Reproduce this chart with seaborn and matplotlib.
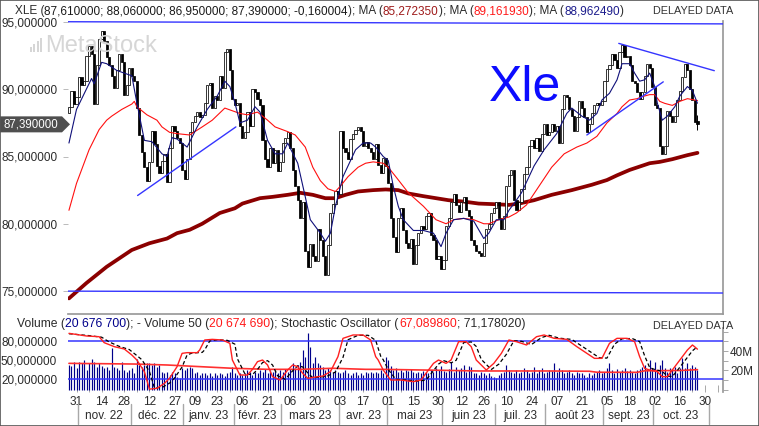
import numpy as np
import pandas as pd
import seaborn as sns
import matplotlib
matplotlib.use("Agg")
import matplotlib.pyplot as plt
from matplotlib.patches import Polygon, Rectangle
from matplotlib.transforms import blended_transform_factory as blend

# ---------------- data (x = trading day, 0 = 31 Oct 2022) ----------------
first_day = -3
first_open = 88.2
closes = [
    88.7, 89.9, 88.9,
    89.4, 90.9, 90.3, 90.6, 92.5, 93.2, 92.6, 88.9, 91.8, 93.7,
    94.3, 93.6, 92.4, 91.8, 91.0, 90.1, 91.4, 92.6, 92.0, 89.6,
    90.3, 91.6, 91.0, 90.6, 88.6, 86.6, 85.3, 84.2, 83.2, 84.6,
    86.9, 85.9, 84.3, 83.8, 84.7, 85.2, 83.1, 85.6, 87.3, 86.9,
    86.4, 86.0, 84.0, 83.3, 84.8, 86.8, 87.6, 88.0, 88.3, 87.9,
    88.1, 89.0, 90.3, 90.5, 88.6, 89.5, 89.2, 91.0, 90.1, 92.8,
    93.0, 91.4, 89.3, 88.8, 89.0, 87.3, 86.4, 86.8, 88.3, 87.3,
    90.0, 89.8, 89.3, 88.8, 86.2, 84.8, 84.2, 85.6, 84.5, 85.5,
    83.9, 84.6, 86.0, 86.4, 86.8, 85.6, 84.0, 82.8, 81.8, 80.4,
    81.6, 78.0, 76.8, 78.5, 77.6, 77.2, 79.6, 78.8, 77.6, 76.2,
    78.4, 80.8, 81.5, 82.4, 82.2, 86.9, 85.6, 85.3, 84.8, 86.3,
    86.7, 87.0, 87.2, 86.9, 85.8, 86.1, 85.6, 85.3, 84.8, 85.9,
    84.4, 83.8, 84.9, 84.3, 83.0, 80.4, 79.0, 77.9, 80.4, 81.2,
    79.5, 78.6, 78.2, 78.9, 77.0, 78.4, 79.3, 79.8, 79.6, 80.6,
    80.8, 79.2, 78.8, 77.4, 77.6, 76.6, 77.3, 79.8, 80.4, 81.6,
    82.2, 81.4, 80.9, 81.6, 82.0, 81.0, 80.6, 78.8, 78.4, 78.0,
    77.8, 77.6, 78.6, 79.6, 80.0, 80.8, 81.2, 81.6, 80.4, 79.6,
    80.6, 82.8, 83.6, 84.0, 81.8, 81.0, 81.6, 82.6, 83.7, 84.2,
    85.8, 86.2, 85.6, 86.4, 85.4, 86.7, 87.4, 86.6, 86.8, 87.4,
    86.9, 87.3, 86.0, 88.5, 89.6, 89.4, 88.5, 88.0, 86.9, 87.9,
    89.1, 88.6, 87.9, 86.8, 87.4, 88.2, 88.8, 89.0, 88.8, 89.1,
    90.6, 91.5, 91.8, 92.6, 92.2, 91.6, 92.8, 93.3, 92.4, 92.5,
    91.8, 90.6, 90.5, 89.8, 89.3, 89.8, 91.0, 91.9, 91.6, 90.2,
    88.8, 88.6, 85.8, 85.2, 85.8, 88.4, 88.0, 87.6, 88.0, 89.2,
    89.9, 90.9, 91.9, 91.4, 90.0, 89.2, 87.55, 87.39,
]
last_open, last_high, last_low = 87.61, 88.06, 86.95

volume_m = [
    25.5, 24.5, 29.0, 22.1, 29.0, 27.2, 30.7, 20.3, 27.9, 31.4,
    29.0, 23.8, 27.2, 24.5, 22.1, 23.8, 20.3, 42.8, 23.8, 22.1,
    20.3, 29.0, 20.3, 18.6, 20.3, 22.1, 16.9, 31.4, 25.5, 23.8,
    25.5, 27.2, 27.2, 25.5, 27.2, 23.8, 25.5, 18.6, 16.9, 18.6,
    15.1, 18.6, 16.9, 13.4, 11.7, 22.1, 20.3, 22.1, 23.8, 22.1,
    16.9, 18.6, 15.1, 16.9, 17.6, 15.1, 16.9, 14.1, 16.9, 15.1,
    16.9, 15.8, 14.1, 16.9, 18.6, 23.8, 16.9, 15.1, 17.6, 15.1,
    16.9, 20.3, 18.6, 15.1, 18.6, 16.9, 20.3, 18.6, 21.0, 16.9,
    20.3, 18.6, 20.3, 16.9, 20.3, 18.6, 21.0, 18.6, 21.0, 27.2,
    22.1, 25.5, 29.0, 41.1, 34.1, 58.3, 44.5, 27.2, 34.1, 27.2,
    25.5, 23.8, 20.3, 22.1, 20.3, 18.6, 20.3, 18.6, 16.9, 18.6,
    20.3, 16.9, 15.1, 16.9, 18.6, 15.1, 16.9, 15.1, 18.6, 16.9,
    18.6, 16.9, 18.6, 16.9,
    20.3, 17.6, 34.1, 31.0, 24.0, 20.3, 22.1, 18.6, 20.3, 18.6,
    20.3, 19.0, 21.0, 18.6, 17.6, 18.6, 16.9, 19.5, 18.6, 16.9,
    20.3, 18.6, 22.1, 20.3, 24.0, 19.5, 18.6, 21.0, 29.0, 18.6,
    23.8, 20.3, 22.1, 25.5, 18.6, 24.5, 23.8, 17.6, 16.9, 15.1,
    18.6, 16.9, 15.1, 16.9, 14.1, 13.4, 11.7, 15.1, 16.9, 18.6,
    25.5, 20.3, 18.6, 16.9, 20.3, 17.6, 18.6, 22.1, 20.3, 17.6,
    18.6, 23.8, 16.9, 20.3, 22.1, 17.6, 18.6, 20.3, 19.0, 27.2,
    18.6, 22.1, 20.3, 17.6, 18.6, 20.3, 16.9, 15.1, 18.6, 17.6,
    16.9, 15.1, 13.4, 16.9, 15.1, 17.6, 18.6, 20.3, 16.9, 18.6,
    22.1, 27.2, 20.3, 17.6, 21.0, 18.6, 20.3, 22.1, 19.0, 20.3,
    18.6, 17.6, 20.3, 21.0, 23.8, 25.5, 20.3, 30.7, 22.1, 29.0,
    20.3, 25.5, 30.7, 22.1, 18.6, 22.1, 20.3, 23.8, 17.6, 22.1,
    32.4, 22.1, 27.2, 22.1, 25.5, 23.8, 20.68,
]

# moving averages (blue short, red medium, dark red 200)
ma_fast_day = [-3, 0, 6, 7, 10, 12, 16, 19, 22, 24, 27, 30, 34, 36, 38, 40, 44, 48, 52, 56,
               59, 61, 63, 65, 68, 71, 73, 76, 79, 82, 84, 88, 91, 93, 97, 99, 101, 103, 106, 109,
               111, 114, 117, 119, 122, 124, 126, 128, 130, 134, 138, 142, 145, 147, 150, 154, 158, 162, 164, 167,
               170, 172, 174, 177, 182, 186, 191, 195, 197, 201, 204, 207, 209, 212, 215, 217, 220, 222, 224, 226,
               228, 230, 231, 233, 235, 238, 240, 243, 245, 247]
ma_fast = [86.0, 88.5, 90.8, 90.4, 92.0, 91.9, 91.4, 91.2, 91.0, 89.0, 86.2, 86.1, 85.2, 85.0, 86.4, 86.3, 85.7, 87.2, 88.5, 89.5,
           90.6, 90.2, 89.0, 87.5, 87.7, 88.7, 88.3, 86.2, 85.2, 85.2, 86.0, 84.5, 82.0, 80.3, 79.3, 78.7, 79.3, 81.3, 83.5, 84.7,
           85.5, 86.0, 86.0, 85.7, 85.0, 84.7, 82.8, 81.3, 80.3, 79.5, 79.5, 79.3, 78.3, 79.3, 80.3, 80.4, 80.2, 78.9, 79.3, 80.3,
           80.3, 81.0, 81.5, 82.3, 84.3, 85.5, 86.7, 88.2, 88.6, 88.0, 87.7, 88.2, 89.2, 89.7, 90.7, 91.9, 91.9, 91.2, 90.6, 90.7,
           91.2, 90.2, 89.0, 87.7, 88.0, 88.7, 89.5, 90.2, 89.9, 88.96]

ma_mid_day = [-3, 0, 5, 9, 12, 14, 18, 22, 23, 24, 28, 32, 34, 37, 40, 45, 50, 54, 59, 65,
              68, 72, 76, 79, 84, 87, 91, 94, 97, 100, 103, 105, 108, 112, 115, 118, 122, 124, 127, 132,
              138, 143, 147, 150, 154, 158, 162, 164, 168, 172, 175, 179, 184, 189, 194, 199, 203, 207, 211, 215,
              217, 220, 223, 225, 228, 230, 232, 234, 237, 240, 243, 247]
ma_mid = [81.0, 83.0, 85.5, 87.0, 87.7, 88.0, 88.5, 88.9, 89.1, 88.7, 88.1, 87.7, 87.2, 86.8, 86.7, 86.6, 87.2, 87.7, 88.6, 88.2,
          88.1, 88.3, 87.7, 87.2, 86.85, 86.6, 85.7, 84.2, 83.2, 82.6, 82.4, 82.8, 83.5, 84.2, 84.5, 84.6, 84.5, 84.2, 83.5, 82.3,
          81.3, 80.3, 80.0, 80.3, 80.4, 80.3, 80.0, 80.0, 80.3, 80.5, 80.8, 81.4, 82.8, 84.2, 85.2, 85.7, 86.0, 86.5, 87.5, 88.2,
          88.7, 89.2, 89.3, 89.45, 89.6, 89.6, 89.1, 88.95, 88.8, 89.1, 89.3, 89.16]

ma_slow_day = [-3, 4, 12, 22, 29, 36, 40, 45, 50, 57, 63, 66, 73, 78, 84, 89, 94, 99, 103, 107,
               112, 118, 123, 128, 132, 138, 143, 148, 154, 160, 167, 172, 176, 182, 189, 197, 205, 211, 215, 220,
               228, 232, 237, 243, 247]
ma_slow = [74.45, 75.6, 76.8, 78.05, 78.55, 78.9, 79.3, 79.55, 80.0, 80.8, 81.15, 81.5, 81.9, 82.0, 82.15, 82.3, 82.15, 81.9, 81.9, 82.15,
           82.4, 82.5, 82.55, 82.5, 82.25, 82.05, 81.9, 81.75, 81.65, 81.5, 81.45, 81.4, 81.5, 81.75, 82.15, 82.5, 82.9, 83.25, 83.6, 84.0,
           84.5, 84.6, 84.8, 85.1, 85.27]

vol_ma_day = [-3, 23, 36, 49, 62, 76, 89, 102, 115, 121, 138, 160, 187, 204, 207, 223, 226, 240, 247]
vol_ma = [27.2, 26.5, 25.5, 23.8, 22.1, 21.0, 21.0, 22.1, 21.0, 21.0, 20.3, 19.3, 19.3, 19.0, 18.0, 17.9, 19.5, 19.8, 20.67]

stoch_k_day = [-3, 4, 9, 11, 15, 19, 22, 24, 27, 29, 32, 35, 37, 40, 42, 44, 48, 49, 51, 54,
               58, 61, 62, 65, 68, 70, 72, 74, 76, 78, 81, 84, 86, 88, 90, 92, 96, 98, 101, 104,
               106, 110, 114, 117, 119, 120, 122, 125, 129, 134, 137, 139, 142, 144, 147, 149, 152, 155, 157, 159,
               163, 166, 169, 172, 175, 179, 183, 186, 190, 195, 199, 202, 206, 209, 212, 215, 219, 222, 224, 226,
               228, 231, 233, 235, 237, 240, 243, 245, 246, 247]
stoch_k = [92.1, 87.9, 86.8, 77.4, 71.1, 67.4, 57.9, 50.0, 31.6, 4.0, 5.3, 13.2, 21.1, 39.5, 60.5, 61.6, 61.6, 65.8, 81.6, 82.6,
           81.6, 76.3, 50.0, 26.3, 26.3, 35.3, 47.4, 50.0, 42.1, 23.7, 18.4, 34.2, 42.1, 39.5, 28.9, 21.1, 23.7, 24.7, 31.6, 55.3,
           84.2, 89.5, 89.5, 81.6, 55.3, 50.0, 34.2, 18.4, 18.4, 15.8, 18.4, 28.9, 44.7, 50.0, 44.7, 50.0, 78.9, 78.9, 71.1, 50.0,
           34.2, 44.7, 60.5, 81.6, 78.9, 73.7, 86.8, 89.5, 84.2, 82.6, 71.1, 63.2, 52.6, 52.6, 76.3, 84.2, 84.2, 78.9, 55.3, 36.8,
           34.2, 31.6, 23.7, 23.7, 34.2, 50.0, 65.8, 73.7, 70.5, 67.09]

stoch_d_day = [-3, 5, 10, 13, 17, 21, 24, 26, 29, 31, 34, 37, 39, 42, 44, 46, 50, 51, 53, 56,
               60, 63, 64, 67, 70, 72, 74, 76, 78, 80, 83, 86, 88, 90, 92, 94, 98, 100, 103, 106,
               108, 112, 116, 119, 121, 122, 124, 127, 131, 136, 139, 141, 144, 146, 149, 151, 154, 157, 159, 161,
               165, 168, 171, 174, 177, 181, 185, 188, 192, 197, 201, 204, 208, 211, 214, 217, 221, 224, 226, 228,
               230, 233, 235, 237, 239, 242, 245, 247]
stoch_d = [91.5, 88.5, 86.0, 78.5, 71.5, 66.5, 57.0, 50.5, 32.0, 6.0, 6.5, 13.5, 21.5, 39.0, 58.0, 61.0, 62.0, 66.0, 80.0, 82.0,
           81.0, 75.0, 52.0, 28.0, 27.0, 35.0, 46.0, 49.0, 42.0, 25.0, 19.5, 33.0, 41.0, 39.0, 29.5, 22.0, 23.5, 25.0, 31.0, 54.0,
           82.0, 89.0, 89.0, 81.0, 56.0, 50.5, 35.0, 19.5, 18.5, 16.5, 18.5, 28.0, 43.5, 49.0, 45.5, 49.5, 77.5, 78.5, 71.5, 51.0,
           35.0, 43.5, 59.0, 80.5, 79.5, 74.5, 85.5, 89.0, 84.5, 82.5, 72.0, 64.0, 53.5, 53.0, 75.0, 83.5, 84.0, 79.0, 56.5, 38.0,
           35.0, 32.0, 24.5, 24.0, 33.5, 49.0, 64.5, 71.18]

# hand-drawn trend lines: (day, price) end points
trend_lines = [
    [(-3.4, 95.02), (257.2, 94.86)],
    [(-3.4, 74.99), (257.2, 74.85)],
    [(24.3, 82.1), (63.4, 87.2)],
    [(203.0, 86.6), (233.4, 90.55)],
    [(215.7, 93.41), (253.7, 91.38)],
]

tick_days = [0, 10, 19, 29, 39, 47, 56, 66, 76, 85, 95, 105, 114, 124, 134, 144, 153, 162,
             171, 181, 191, 201, 211, 220, 230, 240, 250]
tick_labels = ["31", "14", "28", "12", "27", "09", "23", "06", "21", "06", "20", "03", "17", "01",
               "15", "30", "12", "26", "10", "24", "07", "21", "05", "18", "02", "16", "30"]
week_days = [5, 15, 24, 34, 43, 52, 61, 71, 80, 90, 100, 109, 119, 129, 139, 148, 158, 167,
             176, 186, 196, 206, 215, 225, 235, 245, 255]
month_start = [1, 22, 43, 63, 82, 105, 124, 146, 167, 187, 210, 230, 252]
month_labels = ["nov. 22", "déc. 22", "janv. 23", "févr. 23", "mars 23", "avr. 23",
                "mai 23", "juin 23", "juil. 23", "août 23", "sept. 23", "oct. 23"]

# ---------------- layout ----------------
W, H = 759, 426
X0, X1 = 67.7, 723.0
PX_DAY, DAY0_X = 2.514, 76.5
D0, D1 = (X0 - DAY0_X) / PX_DAY, (X1 - DAY0_X) / PX_DAY
PX_PRICE = 13.45
TXT = "#2b2b2b"
GRID = "#9a9a9a"
BLUE_LINE = "#3535ff"

sns.set_theme(style="white")
plt.rcParams["font.family"] = ["Liberation Sans", "DejaVu Sans"]
plt.rcParams["font.size"] = 8.5

fig = plt.figure(figsize=(W / 100, H / 100), dpi=100)
fig.patch.set_facecolor("white")

ax = fig.add_axes([X0 / W, 1 - 314 / H, (X1 - X0) / W, (314 - 21) / H])
axv = fig.add_axes([X0 / W, 1 - 391.5 / H, (X1 - X0) / W, (391.5 - 328) / H])
axs = axv.twinx()

for a in (ax, axv, axs):
    a.set_xlim(D0, D1)
    a.set_facecolor("none")
    for s in a.spines.values():
        s.set_visible(False)
ax.set_facecolor("white")
ax.set_ylim(95 - 292 / PX_PRICE, 95 + 1 / PX_PRICE)
ax.spines["right"].set_visible(True)
ax.spines["bottom"].set_visible(True)
ax.spines["right"].set_color(GRID)
ax.spines["bottom"].set_color(GRID)
axv.spines["right"].set_visible(True)
axv.spines["right"].set_color(GRID)

# ---------------- candles ----------------
df = pd.DataFrame({"day": np.arange(first_day, first_day + len(closes)), "close": closes})
df["open"] = df["close"].shift(1).fillna(first_open)
df.loc[df.index[-1], "open"] = last_open
df["low_body"] = df[["open", "close"]].min(axis=1)
df["body"] = (df["close"] - df["open"]).abs().clip(lower=0.1)
up = df["close"] >= df["open"]

sns.lineplot(x=ma_slow_day, y=ma_slow, ax=ax, color="#8b0000", linewidth=2.7,
             legend=False, zorder=1.5)
ax.vlines(df["day"].iloc[-1], last_low, last_high, color="black", lw=0.7, zorder=2)
ax.bar(df.loc[up, "day"], df.loc[up, "body"], bottom=df.loc[up, "low_body"], width=0.85,
       facecolor="white", edgecolor="black", linewidth=0.55, zorder=2)
ax.bar(df.loc[~up, "day"], df.loc[~up, "body"], bottom=df.loc[~up, "low_body"], width=0.85,
       facecolor="black", edgecolor="black", linewidth=0.55, zorder=2)

sns.lineplot(x=ma_mid_day, y=ma_mid, ax=ax, color="#ff1010", linewidth=0.8, legend=False, zorder=3)
sns.lineplot(x=ma_fast_day, y=ma_fast, ax=ax, color="#10107a", linewidth=0.8, legend=False, zorder=3)

for (d_a, p_a), (d_b, p_b) in trend_lines:
    sns.lineplot(x=[d_a, d_b], y=[p_a, p_b], ax=ax, color=BLUE_LINE, linewidth=1.0,
                 legend=False, zorder=4)

ax.set_yticks([75, 80, 85, 90, 95])
ax.yaxis.set_major_formatter(lambda v, _: f"{v:.6f}".replace(".", ","))
ax.tick_params(axis="y", left=True, length=3.5, width=0.6, color="#b0b0b0",
               pad=4, labelsize=8.5, labelcolor=TXT)
ax.tick_params(axis="x", bottom=False, labelbottom=False)
ax.set_xlabel("")
ax.set_ylabel("")

# current price marker
tr = blend(fig.transFigure, ax.transData)
last_close = closes[-1]
hh = 8 / PX_PRICE
ax.add_patch(Polygon([(0, last_close + hh), (62 / W, last_close + hh), (70 / W, last_close),
                      (62 / W, last_close - hh), (0, last_close - hh)],
                     closed=True, transform=tr, clip_on=False, facecolor="#4f4f4f",
                     edgecolor="none", zorder=6))
ax.text(31 / W, last_close, f"{last_close:.6f}".replace(".", ","), transform=tr,
        ha="center", va="center", color="white", fontsize=8.3, zorder=7)

# watermark and big label
fig.text(45 / W, 1 - 52 / H, "MetaStock", fontsize=17, color="#d6d6d6", va="baseline")
for i, h in enumerate([5, 8, 11, 14]):
    fig.patches.append(Rectangle(((30 + i * 3.4) / W, 1 - 52 / H), 2 / W, h / H,
                                 transform=fig.transFigure, facecolor="#d6d6d6",
                                 edgecolor="none"))
fig.text(489 / W, 1 - 101 / H, "Xle", fontsize=36, color="#0c0cff", va="baseline")

# ---------------- volume + stochastic ----------------
axv.set_ylim(-(391.5 - 389.6) / 0.965, (389.6 - 328) / 0.965)
axs.set_ylim(20 - (391.5 - 379) / 0.6333, 20 + (379 - 328) / 0.6333)

axv.vlines(df["day"], 0, volume_m, color="#00008b", linewidth=0.85, zorder=2)
sns.lineplot(x=vol_ma_day, y=vol_ma, ax=axv, color="#ff3030", linewidth=1.2,
             legend=False, zorder=3)
axs.axhline(80, color=BLUE_LINE, lw=1.1, zorder=1)
axs.axhline(20, color=BLUE_LINE, lw=1.1, zorder=1)
sns.lineplot(x=stoch_d_day, y=stoch_d, ax=axs, color="black", linewidth=0.9,
             linestyle=(0, (3, 2)), legend=False, zorder=3)
sns.lineplot(x=stoch_k_day, y=stoch_k, ax=axs, color="#ff2020", linewidth=1.0,
             legend=False, zorder=4)

axv.yaxis.tick_right()
axv.set_yticks([0, 10, 20, 30, 40, 50, 60])
axv.yaxis.set_major_formatter(lambda v, _: f"{v:.0f}M" if v in (20, 40) else "")
axv.tick_params(axis="y", right=True, left=False, length=3.5, width=0.6, color=GRID,
                pad=1.5, labelsize=8.5, labelcolor=TXT)
axs.yaxis.tick_left()
axs.set_yticks([20, 50, 80])
axs.yaxis.set_major_formatter(lambda v, _: f"{v:.6f}".replace(".", ","))
axs.tick_params(axis="y", left=True, right=False, length=0, pad=7.6,
                labelsize=8.5, labelcolor=TXT)
for a in (axv, axs):
    a.set_xlabel("")
    a.set_ylabel("")

axv.set_xticks(tick_days)
axv.set_xticklabels(tick_labels)
axv.set_xticks(week_days, minor=True)
axv.tick_params(axis="x", which="both", bottom=True, direction="in", length=5, width=0.6,
                color=GRID, pad=3, labelsize=8.5, labelcolor=TXT)
axs.tick_params(axis="x", bottom=False, labelbottom=False)

# month row
trm = blend(axv.transData, fig.transFigure)
for d in month_start:
    axv.plot([d - 0.5, d - 0.5], [1 - 404 / H, 1 - 424 / H], transform=trm, color="#a8a8a8",
             lw=1.0, clip_on=False)
for i, lab in enumerate(month_labels):
    centre = (month_start[i] + month_start[i + 1] - 1) / 2
    axv.text(centre, 1 - 416 / H, lab, transform=trm, ha="center", va="center",
             fontsize=8.5, color=TXT)

# ---------------- header texts ----------------
renderer = fig.canvas.get_renderer()


def colored_line(parts, x_px, y_px, size):
    x = x_px / W
    for s, c in parts:
        t = fig.text(x, 1 - y_px / H, s, color=c, fontsize=size, va="baseline", ha="left")
        x += t.get_window_extent(renderer=renderer).width / W


colored_line([("XLE (", TXT),
              ("87,610000; 88,060000; 86,950000; 87,390000; -0,160004", "#1a1a1a"),
              ("); MA (", TXT), ("85,272350", "#9e1a1a"),
              ("); MA (", TXT), ("89,161930", "#ff1a1a"),
              ("); MA (", TXT), ("88,962490", "#1c1c8c"), (")", TXT)], 15, 14, 8.5)
colored_line([("Volume (", TXT), ("20 676 700", "#00008b"),
              ("); - Volume 50 (", TXT), ("20 674 690", "#ff1a1a"),
              ("); Stochastic Oscillator (", TXT), ("67,089860", "#ff1a1a"),
              ("; 71,178020)", TXT)], 17, 327, 8.7)
fig.text(653 / W, 1 - 14 / H, "DELAYED DATA", fontsize=7.8, color="#333333", va="baseline")
fig.text(653 / W, 1 - 329 / H, "DELAYED DATA", fontsize=7.8, color="#333333", va="baseline")

fig.patches.append(Rectangle((0, 0), 1, 1, transform=fig.transFigure, fill=False,
                             edgecolor="#555555", lw=1.2))

fig.savefig("out.png", dpi=100)
